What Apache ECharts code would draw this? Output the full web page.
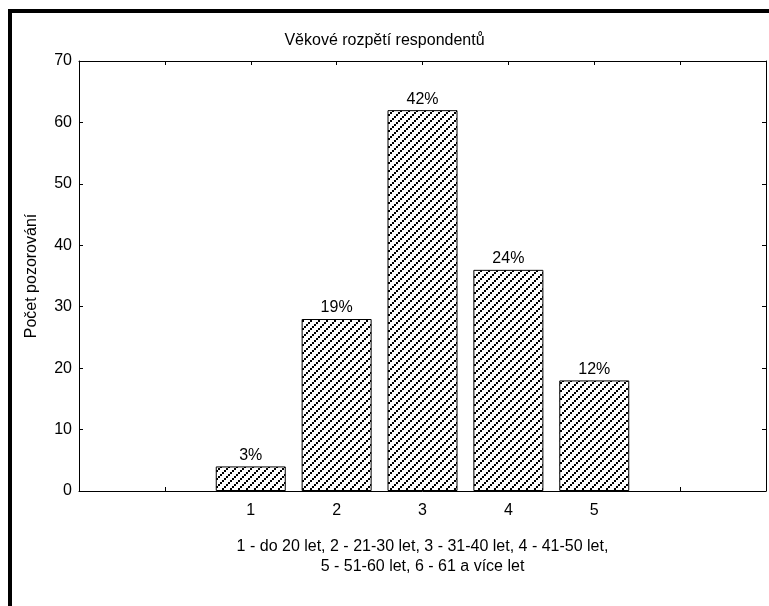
<!DOCTYPE html>
<html>
<head>
<meta charset="utf-8">
<script src="https://cdn.jsdelivr.net/npm/echarts@6/dist/echarts.min.js"></script>
<style>
  html, body { margin: 0; padding: 0; background: #fff; }
  #chart { width: 769px; height: 606px; }
</style>
</head>
<body>
<div id="chart"></div>
<script>
// Age groups (codes) and number of respondents in each
const categories = [1, 2, 3, 4, 5];
const counts = [4, 28, 62, 36, 18];
const yTicks = [0, 10, 20, 30, 40, 50, 60, 70];
const titleText = 'Věkové rozpětí respondentů';
const yAxisTitle = 'Počet pozorování';
const legendNote = ['1 - do 20 let, 2 - 21-30 let, 3 - 31-40 let, 4 - 41-50 let,', '5 - 51-60 let, 6 - 61 a více let'];

const total = counts.reduce((a, b) => a + b, 0);
const FONT = '"Liberation Sans", Arial, sans-serif';

// Diagonal hatch fill used for the bars
function hatchPattern() {
  const c = document.createElement('canvas');
  c.width = 8; c.height = 8;
  const g = c.getContext('2d');
  g.fillStyle = '#fff';
  g.fillRect(0, 0, 8, 8);
  g.fillStyle = '#000';
  for (let k = 0; k < 4; k++) {
    g.fillRect(2 * k, 6 - 2 * k, 2, 2);
  }
  return c;
}

const chart = echarts.init(document.getElementById('chart'), null, { renderer: 'canvas' });

const axisLine = { show: true, onZero: false, lineStyle: { color: '#000', width: 1 } };
const innerTick = { show: true, inside: true, length: 4, lineStyle: { color: '#000', width: 1 } };

chart.setOption({
  animation: false,
  backgroundColor: '#fff',
  textStyle: { fontFamily: FONT },
  title: {
    text: titleText,
    left: 'center',
    top: 28,
    textStyle: { fontFamily: FONT, fontSize: 16, fontWeight: 'normal', color: '#000' }
  },
  grid: { left: 79, right: 2, top: 61, bottom: 115, containLabel: false },
  xAxis: [
    {
      type: 'value', position: 'bottom', min: -1, max: 7, interval: 1,
      axisLine: axisLine, axisTick: innerTick, splitLine: { show: false },
      axisLabel: {
        color: '#000', fontSize: 16, fontFamily: FONT, margin: 12,
        formatter: v => (categories.indexOf(v) >= 0 ? String(v) : '')
      },
      name: legendNote.join('\n'),
      nameLocation: 'middle',
      nameGap: 46,
      nameTextStyle: { color: '#000', fontSize: 16, fontFamily: FONT, lineHeight: 20, align: 'center', verticalAlign: 'top' }
    },
    {
      type: 'value', position: 'top', min: -1, max: 7, interval: 1,
      axisLine: axisLine, axisTick: innerTick, splitLine: { show: false },
      axisLabel: { show: false }
    }
  ],
  yAxis: [
    {
      type: 'value', position: 'left', min: yTicks[0], max: yTicks[yTicks.length - 1], interval: 10,
      axisLine: axisLine, axisTick: innerTick, splitLine: { show: false },
      axisLabel: { color: '#000', fontSize: 16, fontFamily: FONT, margin: 7 },
      name: yAxisTitle, nameLocation: 'middle', nameRotate: 90, nameGap: 39,
      nameTextStyle: { color: '#000', fontSize: 16, fontFamily: FONT }
    },
    {
      type: 'value', position: 'right', min: yTicks[0], max: yTicks[yTicks.length - 1], interval: 10,
      axisLine: axisLine, axisTick: innerTick, splitLine: { show: false },
      axisLabel: { show: false }
    }
  ],
  series: [
    {
      type: 'bar',
      xAxisIndex: 0,
      yAxisIndex: 0,
      barWidth: 70,
      data: categories.map((c, i) => [c, counts[i]]),
      itemStyle: {
        color: { image: hatchPattern(), repeat: 'repeat' },
        borderColor: '#000',
        borderWidth: 1
      },
      label: {
        show: true,
        position: 'top',
        distance: 3,
        color: '#000',
        fontSize: 16,
        fontFamily: FONT,
        formatter: p => Math.round(p.value[1] / total * 100) + '%'
      }
    }
  ],
  graphic: [
    {
      type: 'rect',
      silent: true,
      shape: { x: 10, y: 11, width: 800, height: 700 },
      style: { fill: 'none', stroke: '#000', lineWidth: 4 }
    }
  ]
});
</script>
</body>
</html>
